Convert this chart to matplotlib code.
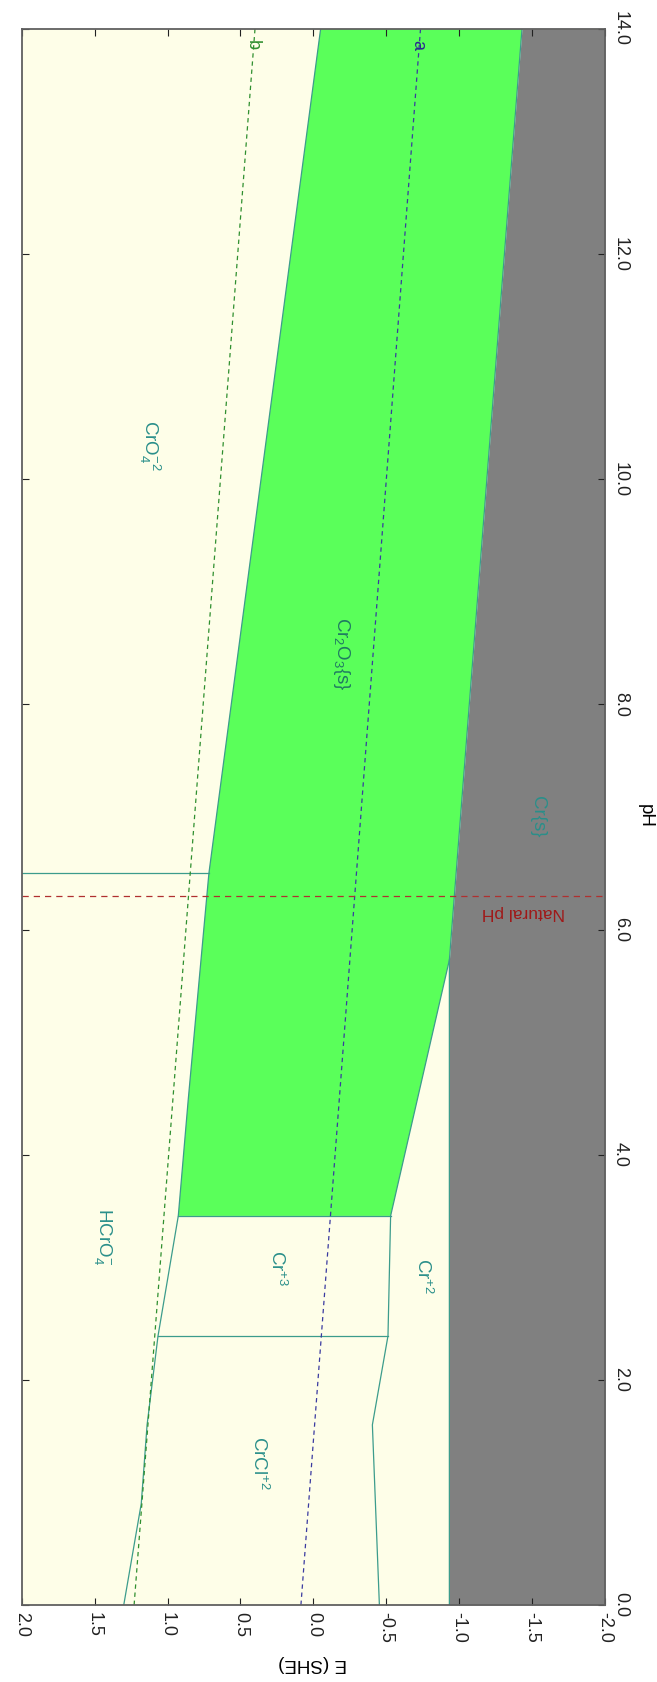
import matplotlib.pyplot as plt
import numpy as np

plt.rcParams['font.family'] = ['Liberation Sans', 'DejaVu Sans']
plt.rcParams['mathtext.fontset'] = 'custom'
plt.rcParams['mathtext.rm'] = 'Liberation Sans'
plt.rcParams['mathtext.it'] = 'Liberation Sans'

# boundaries: pH and E (V vs SHE)
upper_ph = [0.0, 0.9, 1.6, 2.39, 3.456, 4.486, 6.5, 14.0]
upper_e = [1.30, 1.18, 1.14, 1.065, 0.926, 0.858, 0.716, -0.05]
cr_ph = [0.0, 5.73, 14.0]
cr_e = [-0.933, -0.933, -1.431]
lower_ph = [0.0, 1.6, 2.39, 3.456, 5.73]
lower_e = [-0.453, -0.405, -0.512, -0.530, -0.933]
green_top_ph = [3.456, 4.486, 6.5, 14.0]
green_top_e = [0.926, 0.858, 0.716, -0.05]
green_bot_ph = [14.0, 5.73, 3.456]
green_bot_e = [-1.431, -0.933, -0.530]
hline_ph = [2.39, 3.456]
hline_e0 = [1.065, 0.926]
hline_e1 = [-0.512, -0.530]
vline_ph = 6.5
vline_e = [2.0, 0.716]
a_ph = [0.0, 14.0]
a_e = [0.085, -0.735]
b_ph = [0.0, 14.0]
b_e = [1.229, 0.400]
natural_ph = 6.3

labels = [
    (r'CrO$_4^{-2}$', 1.12, 10.3, '#2a8f8a'),
    (r'Cr$_2$O$_3${s}', -0.19, 8.45, '#1f7a62'),
    ('Cr{s}', -1.54, 7.0, '#2a8f8a'),
    (r'HCrO$_4^{-}$', 1.44, 3.27, '#2a8f8a'),
    (r'Cr$^{+3}$', 0.25, 2.99, '#2a8f8a'),
    (r'Cr$^{+2}$', -0.75, 2.92, '#2a8f8a'),
    (r'CrCl$^{+2}$', 0.37, 1.26, '#2a8f8a'),
]

fig = plt.figure(figsize=(6.57, 16.82), dpi=100)
ax = fig.add_axes([0.033, 0.0458, 0.8878, 0.937])
ax.set_facecolor('#fefee8')

ax.fill_betweenx(cr_ph, cr_e, -2.0, color='#808080', lw=0)
ax.fill(green_top_e + green_bot_e, green_top_ph + green_bot_ph, color='#5aff5a', lw=0)

lc = '#3c9c8c'
ax.plot(upper_e, upper_ph, color=lc, lw=0.9)
ax.plot(cr_e, cr_ph, color=lc, lw=0.9)
ax.plot(lower_e, lower_ph, color=lc, lw=0.9)
for p, e0, e1 in zip(hline_ph, hline_e0, hline_e1):
    ax.plot([e0, e1], [p, p], color=lc, lw=0.9)
ax.plot(vline_e, [vline_ph, vline_ph], color=lc, lw=0.9)

ax.plot(a_e, a_ph, color='#3a3aa0', lw=0.9, ls=(0, (3.5, 3)))
ax.plot(b_e, b_ph, color='#2f8f2f', lw=0.9, ls=(0, (3.5, 3)))
ax.axhline(natural_ph, color='#b03030', lw=0.9, ls=(0, (5, 4)))

ax.text(a_e[1] + 0.02, 13.86, 'a', color='#2a2a90', fontsize=13, rotation=-90,
        ha='center', va='center')
ax.text(b_e[1] + 0.02, 13.86, 'b', color='#2f8f2f', fontsize=13, rotation=-90,
        ha='center', va='center')
ax.text(-1.44, 6.15, 'Natural pH', color='#a01818', fontsize=12.5, rotation=180,
        ha='center', va='center')

for txt, e, p, c in labels:
    ax.text(e, p, txt, color=c, fontsize=13.5, rotation=-90, ha='center', va='center')

ax.set_xlim(2.0, -2.0)
ax.set_ylim(0, 14)
ax.set_xticks(np.arange(2.0, -2.01, -0.5))
ax.set_xticklabels(['%.1f' % v for v in np.arange(2.0, -2.01, -0.5)], rotation=-90)
ax.set_yticks(np.arange(0, 14.1, 2))
ax.set_yticklabels(['%.1f' % v for v in np.arange(0, 14.1, 2)], rotation=-90, va='center')
ax.yaxis.tick_right()
ax.tick_params(axis='both', direction='in', length=5, labelsize=13, colors='#222222',
               top=True, left=True, right=True, bottom=True, pad=5)
for s in ax.spines.values():
    s.set_color('#606060')
    s.set_linewidth(1.3)

fig.text(0.476, 0.011, 'E (SHE)', rotation=180, fontsize=13.5, ha='center', va='center')
fig.text(0.982, 0.515, 'pH', rotation=-90, fontsize=13.5, ha='center', va='center')

fig.savefig('out.png', dpi=100, facecolor='white')
